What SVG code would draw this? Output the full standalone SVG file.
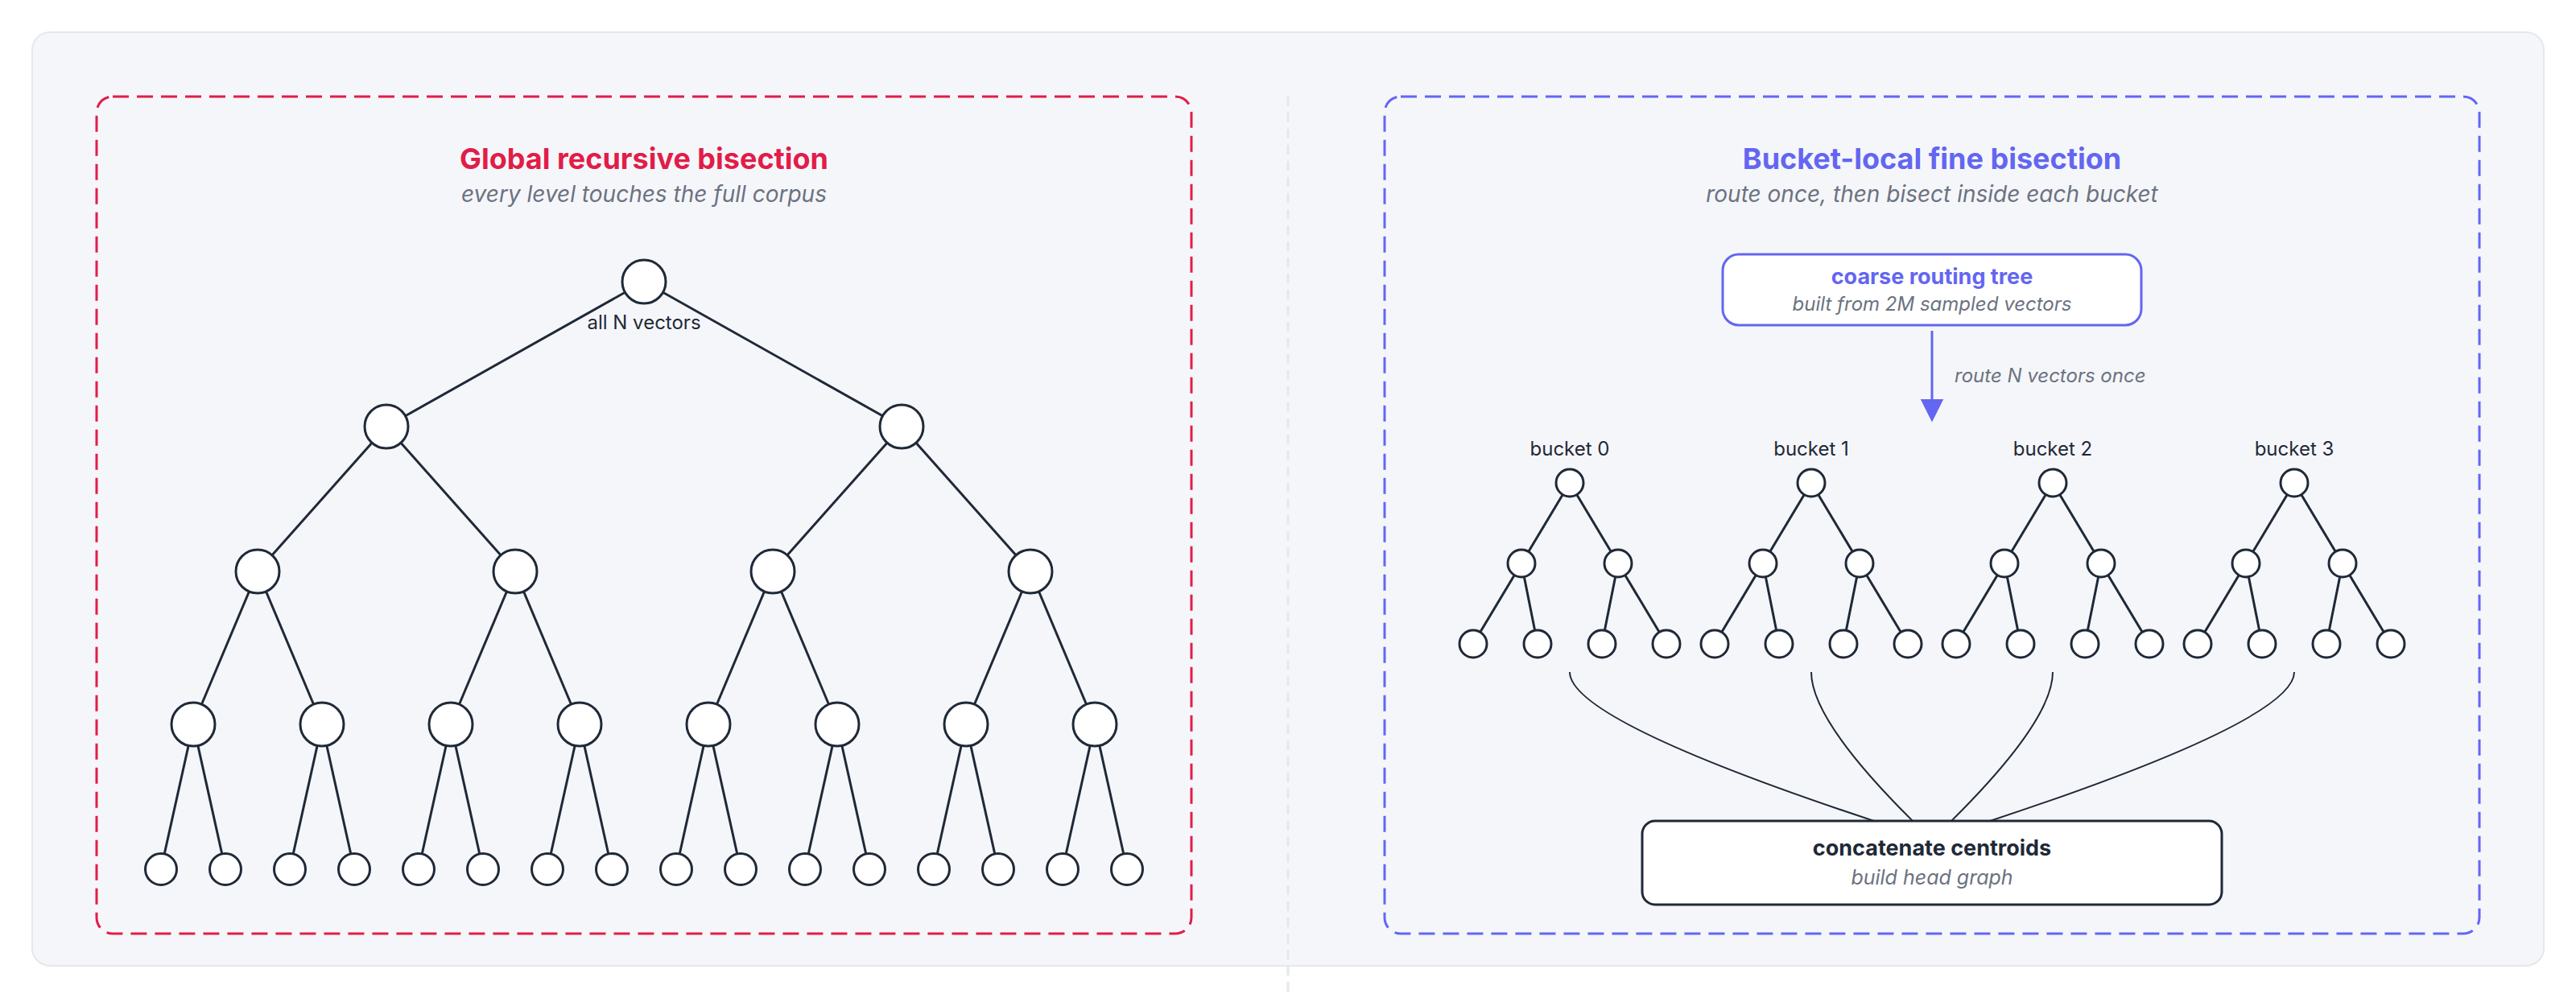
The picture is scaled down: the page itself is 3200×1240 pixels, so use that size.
<svg xmlns="http://www.w3.org/2000/svg" width="3200" height="1240" viewBox="0 0 3200 1240">
<style>
text{font-family:Inter,"Liberation Sans",sans-serif}
.title{font-size:36px;font-weight:700;text-anchor:middle}
.sub{font-size:28px;font-style:italic;fill:#6b7280;text-anchor:middle}
.lbl{font-size:24px;fill:#1f2937;text-anchor:middle}
.it{font-size:24px;font-style:italic;fill:#6b7280}
.bold{font-size:27px;font-weight:700;text-anchor:middle}
.n{fill:#ffffff;stroke:#1f2937;stroke-width:3}
.e{stroke:#1f2937;stroke-width:3;fill:none}
.c{stroke:#1f2937;stroke-width:2;fill:none}
.box{fill:none;stroke-width:3;stroke-dasharray:20 10}
</style>
<defs>
<marker id="arr" viewBox="0 0 10 10" refX="0.5" refY="5" markerWidth="29" markerHeight="29" markerUnits="userSpaceOnUse" orient="auto">
<path d="M0,0 L10,5 L0,10 z" fill="#6366f1"/>
</marker>
</defs>
<rect x="0" y="0" width="3200" height="1240" fill="#ffffff"/>
<rect id="panel" x="40" y="40" width="3120" height="1160" rx="22" fill="#f5f6fa" stroke="#e5e7eb" stroke-width="2"/>
<line id="divider" x1="1600" y1="120" x2="1600" y2="1240" stroke="#e5e7eb" stroke-width="3" stroke-dasharray="12 8"/>
<rect id="left-frame" class="box" x="120" y="120" width="1360" height="1040" rx="20" stroke="#e11d48"/>
<rect id="right-frame" class="box" x="1720" y="120" width="1360" height="1040" rx="20" stroke="#6366f1"/>

<g id="left-heading">
<text class="title" x="800" y="210" fill="#e11d48">Global recursive bisection</text>
<text class="sub" x="800" y="251">every level touches the full corpus</text>
</g>
<g id="right-heading">
<text class="title" x="2400" y="210" fill="#6366f1">Bucket-local fine bisection</text>
<text class="sub" x="2400" y="251">route once, then bisect inside each bucket</text>
</g>

<g id="connectors">
<g id="left-tree-edges" class="e">
<line x1="800" y1="350" x2="480" y2="530"/><line x1="800" y1="350" x2="1120" y2="530"/>
<line x1="480" y1="530" x2="320" y2="710"/><line x1="480" y1="530" x2="640" y2="710"/>
<line x1="1120" y1="530" x2="960" y2="710"/><line x1="1120" y1="530" x2="1280" y2="710"/>
<line x1="320" y1="710" x2="240" y2="900"/><line x1="320" y1="710" x2="400" y2="900"/>
<line x1="640" y1="710" x2="560" y2="900"/><line x1="640" y1="710" x2="720" y2="900"/>
<line x1="960" y1="710" x2="880" y2="900"/><line x1="960" y1="710" x2="1040" y2="900"/>
<line x1="1280" y1="710" x2="1200" y2="900"/><line x1="1280" y1="710" x2="1360" y2="900"/>
<line x1="240" y1="900" x2="200" y2="1080"/><line x1="240" y1="900" x2="280" y2="1080"/>
<line x1="400" y1="900" x2="360" y2="1080"/><line x1="400" y1="900" x2="440" y2="1080"/>
<line x1="560" y1="900" x2="520" y2="1080"/><line x1="560" y1="900" x2="600" y2="1080"/>
<line x1="720" y1="900" x2="680" y2="1080"/><line x1="720" y1="900" x2="760" y2="1080"/>
<line x1="880" y1="900" x2="840" y2="1080"/><line x1="880" y1="900" x2="920" y2="1080"/>
<line x1="1040" y1="900" x2="1000" y2="1080"/><line x1="1040" y1="900" x2="1080" y2="1080"/>
<line x1="1200" y1="900" x2="1160" y2="1080"/><line x1="1200" y1="900" x2="1240" y2="1080"/>
<line x1="1360" y1="900" x2="1320" y2="1080"/><line x1="1360" y1="900" x2="1400" y2="1080"/>
</g>
<g id="bucket-edges" class="e">
<line x1="1950" y1="600" x2="1890" y2="700"/><line x1="1950" y1="600" x2="2010" y2="700"/>
<line x1="1890" y1="700" x2="1830" y2="800"/><line x1="1890" y1="700" x2="1910" y2="800"/>
<line x1="2010" y1="700" x2="1990" y2="800"/><line x1="2010" y1="700" x2="2070" y2="800"/>
<line x1="2250" y1="600" x2="2190" y2="700"/><line x1="2250" y1="600" x2="2310" y2="700"/>
<line x1="2190" y1="700" x2="2130" y2="800"/><line x1="2190" y1="700" x2="2210" y2="800"/>
<line x1="2310" y1="700" x2="2290" y2="800"/><line x1="2310" y1="700" x2="2370" y2="800"/>
<line x1="2550" y1="600" x2="2490" y2="700"/><line x1="2550" y1="600" x2="2610" y2="700"/>
<line x1="2490" y1="700" x2="2430" y2="800"/><line x1="2490" y1="700" x2="2510" y2="800"/>
<line x1="2610" y1="700" x2="2590" y2="800"/><line x1="2610" y1="700" x2="2670" y2="800"/>
<line x1="2850" y1="600" x2="2790" y2="700"/><line x1="2850" y1="600" x2="2910" y2="700"/>
<line x1="2790" y1="700" x2="2730" y2="800"/><line x1="2790" y1="700" x2="2810" y2="800"/>
<line x1="2910" y1="700" x2="2890" y2="800"/><line x1="2910" y1="700" x2="2970" y2="800"/>
</g>
<g id="merge-curves" class="c">
<path d="M1950 835 Q1950 895 2328 1020"/>
<path d="M2250 835 Q2250 895 2376 1020"/>
<path d="M2550 835 Q2550 895 2424 1020"/>
<path d="M2850 835 Q2850 895 2472 1020"/>
</g>
<g id="route-arrow">
<line x1="2400" y1="411" x2="2400" y2="497" stroke="#6366f1" stroke-width="3" marker-end="url(#arr)"/>
<text class="it" x="2428" y="475">route N vectors once</text>
</g>
</g>

<g id="left-tree">
<g id="lt-root"><circle class="n" cx="800" cy="350" r="27"/><text class="lbl" x="800" y="409">all N vectors</text></g>
<g id="lt-1a"><circle class="n" cx="480" cy="530" r="27"/></g>
<g id="lt-1b"><circle class="n" cx="1120" cy="530" r="27"/></g>
<g id="lt-2a"><circle class="n" cx="320" cy="710" r="27"/></g>
<g id="lt-2b"><circle class="n" cx="640" cy="710" r="27"/></g>
<g id="lt-2c"><circle class="n" cx="960" cy="710" r="27"/></g>
<g id="lt-2d"><circle class="n" cx="1280" cy="710" r="27"/></g>
<g id="lt-3a"><circle class="n" cx="240" cy="900" r="27"/></g>
<g id="lt-3b"><circle class="n" cx="400" cy="900" r="27"/></g>
<g id="lt-3c"><circle class="n" cx="560" cy="900" r="27"/></g>
<g id="lt-3d"><circle class="n" cx="720" cy="900" r="27"/></g>
<g id="lt-3e"><circle class="n" cx="880" cy="900" r="27"/></g>
<g id="lt-3f"><circle class="n" cx="1040" cy="900" r="27"/></g>
<g id="lt-3g"><circle class="n" cx="1200" cy="900" r="27"/></g>
<g id="lt-3h"><circle class="n" cx="1360" cy="900" r="27"/></g>
<g id="lt-leaves">
<circle class="n" cx="200" cy="1080" r="19.5"/><circle class="n" cx="280" cy="1080" r="19.5"/>
<circle class="n" cx="360" cy="1080" r="19.5"/><circle class="n" cx="440" cy="1080" r="19.5"/>
<circle class="n" cx="520" cy="1080" r="19.5"/><circle class="n" cx="600" cy="1080" r="19.5"/>
<circle class="n" cx="680" cy="1080" r="19.5"/><circle class="n" cx="760" cy="1080" r="19.5"/>
<circle class="n" cx="840" cy="1080" r="19.5"/><circle class="n" cx="920" cy="1080" r="19.5"/>
<circle class="n" cx="1000" cy="1080" r="19.5"/><circle class="n" cx="1080" cy="1080" r="19.5"/>
<circle class="n" cx="1160" cy="1080" r="19.5"/><circle class="n" cx="1240" cy="1080" r="19.5"/>
<circle class="n" cx="1320" cy="1080" r="19.5"/><circle class="n" cx="1400" cy="1080" r="19.5"/>
</g>
</g>

<g id="coarse-routing-tree">
<rect x="2140" y="316" width="520" height="88" rx="20" fill="#ffffff" stroke="#6366f1" stroke-width="3"/>
<text x="2400" y="353" font-size="27" font-weight="700" fill="#6366f1" text-anchor="middle">coarse routing tree</text>
<text x="2400" y="386" font-size="24" font-style="italic" fill="#6b7280" text-anchor="middle">built from 2M sampled vectors</text>
</g>

<g id="bucket-0">
<text class="lbl" x="1950" y="566">bucket 0</text>
<circle class="n" cx="1950" cy="600" r="17"/>
<circle class="n" cx="1890" cy="700" r="17"/><circle class="n" cx="2010" cy="700" r="17"/>
<circle class="n" cx="1830" cy="800" r="17"/><circle class="n" cx="1910" cy="800" r="17"/><circle class="n" cx="1990" cy="800" r="17"/><circle class="n" cx="2070" cy="800" r="17"/>
</g>
<g id="bucket-1">
<text class="lbl" x="2250" y="566">bucket 1</text>
<circle class="n" cx="2250" cy="600" r="17"/>
<circle class="n" cx="2190" cy="700" r="17"/><circle class="n" cx="2310" cy="700" r="17"/>
<circle class="n" cx="2130" cy="800" r="17"/><circle class="n" cx="2210" cy="800" r="17"/><circle class="n" cx="2290" cy="800" r="17"/><circle class="n" cx="2370" cy="800" r="17"/>
</g>
<g id="bucket-2">
<text class="lbl" x="2550" y="566">bucket 2</text>
<circle class="n" cx="2550" cy="600" r="17"/>
<circle class="n" cx="2490" cy="700" r="17"/><circle class="n" cx="2610" cy="700" r="17"/>
<circle class="n" cx="2430" cy="800" r="17"/><circle class="n" cx="2510" cy="800" r="17"/><circle class="n" cx="2590" cy="800" r="17"/><circle class="n" cx="2670" cy="800" r="17"/>
</g>
<g id="bucket-3">
<text class="lbl" x="2850" y="566">bucket 3</text>
<circle class="n" cx="2850" cy="600" r="17"/>
<circle class="n" cx="2790" cy="700" r="17"/><circle class="n" cx="2910" cy="700" r="17"/>
<circle class="n" cx="2730" cy="800" r="17"/><circle class="n" cx="2810" cy="800" r="17"/><circle class="n" cx="2890" cy="800" r="17"/><circle class="n" cx="2970" cy="800" r="17"/>
</g>

<g id="concatenate-centroids">
<rect x="2040" y="1020" width="720" height="104" rx="16" fill="#ffffff" stroke="#1f2937" stroke-width="3"/>
<text class="bold" x="2400" y="1063" fill="#1f2937">concatenate centroids</text>
<text x="2400" y="1099" font-size="25" font-style="italic" fill="#6b7280" text-anchor="middle">build head graph</text>
</g>
</svg>
